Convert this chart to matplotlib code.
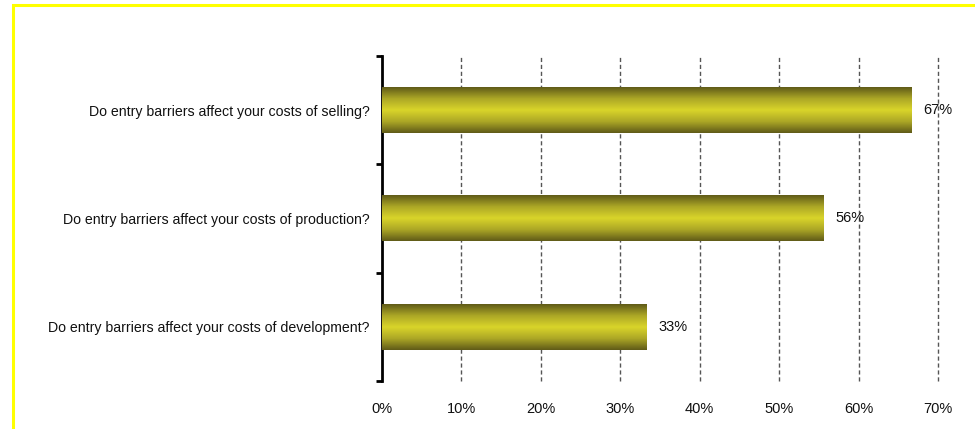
import matplotlib.pyplot as plt
import matplotlib.patches as mpatches
from matplotlib.colors import LinearSegmentedColormap
import numpy as np

questions = ['Do entry barriers affect your costs of selling?',
             'Do entry barriers affect your costs of production?',
             'Do entry barriers affect your costs of development?']
shares = [66.7, 55.6, 33.3]
share_labels = ['67%', '56%', '33%']
xticks = [0, 10, 20, 30, 40, 50, 60, 70]

plt.rcParams['font.family'] = ['Liberation Sans', 'DejaVu Sans']

fig = plt.figure(figsize=(9.75, 4.29), dpi=100)
ax = fig.add_axes([382/975, 1-381/429, (938-382)/975, (381-56)/429])

ypos = np.arange(len(questions))
bars = ax.barh(ypos, shares, height=0.42, color='none', zorder=3)

# vertical gradient dark olive -> yellow -> dark olive
cmap = LinearSegmentedColormap.from_list('olive', ['#5f5a18', '#aca726', '#d9d52a', '#aca726', '#5f5a18'])
grad = np.linspace(0, 1, 256).reshape(-1, 1)
for b in bars:
    x0, y0 = b.get_x(), b.get_y()
    w, h = b.get_width(), b.get_height()
    ax.imshow(grad, cmap=cmap, aspect='auto', extent=[x0, x0 + w, y0 + h, y0],
              interpolation='bicubic', zorder=3)

for y, v, lab in zip(ypos, shares, share_labels):
    ax.text(v + 1.5, y, lab, va='center', ha='left', fontsize=10.5, color='#111111', zorder=4)

ax.set_xlim(0, 70)
ax.set_ylim(len(questions) - 0.5, -0.5)

ax.set_xticks(xticks)
ax.set_xticklabels([f'{t}%' for t in xticks], fontsize=10.5, color='#111111')
ax.tick_params(axis='x', length=0, pad=15)
for t in xticks[1:]:
    ax.axvline(t, color='#555555', linestyle=(0, (3, 2)), linewidth=1, zorder=1, clip_on=False)

ax.set_yticks(ypos)
ax.set_yticklabels(questions, fontsize=10.2, color='#111111')
ax.tick_params(axis='y', which='major', length=0, pad=9)
ax.set_yticks(np.arange(-0.5, len(questions)), minor=True)
ax.tick_params(axis='y', which='minor', length=4, width=2, direction='out')

for s in ['top', 'right', 'bottom']:
    ax.spines[s].set_visible(False)
ax.spines['left'].set_linewidth(2)

# yellow frame
frame = mpatches.Rectangle((13/975, -0.1), 1.2, 1 - 5/429 + 0.1, transform=fig.transFigure,
                           fill=False, edgecolor='#ffff00', linewidth=2.2, clip_on=False)
fig.patches.append(frame)

fig.savefig('out.png', dpi=100)
